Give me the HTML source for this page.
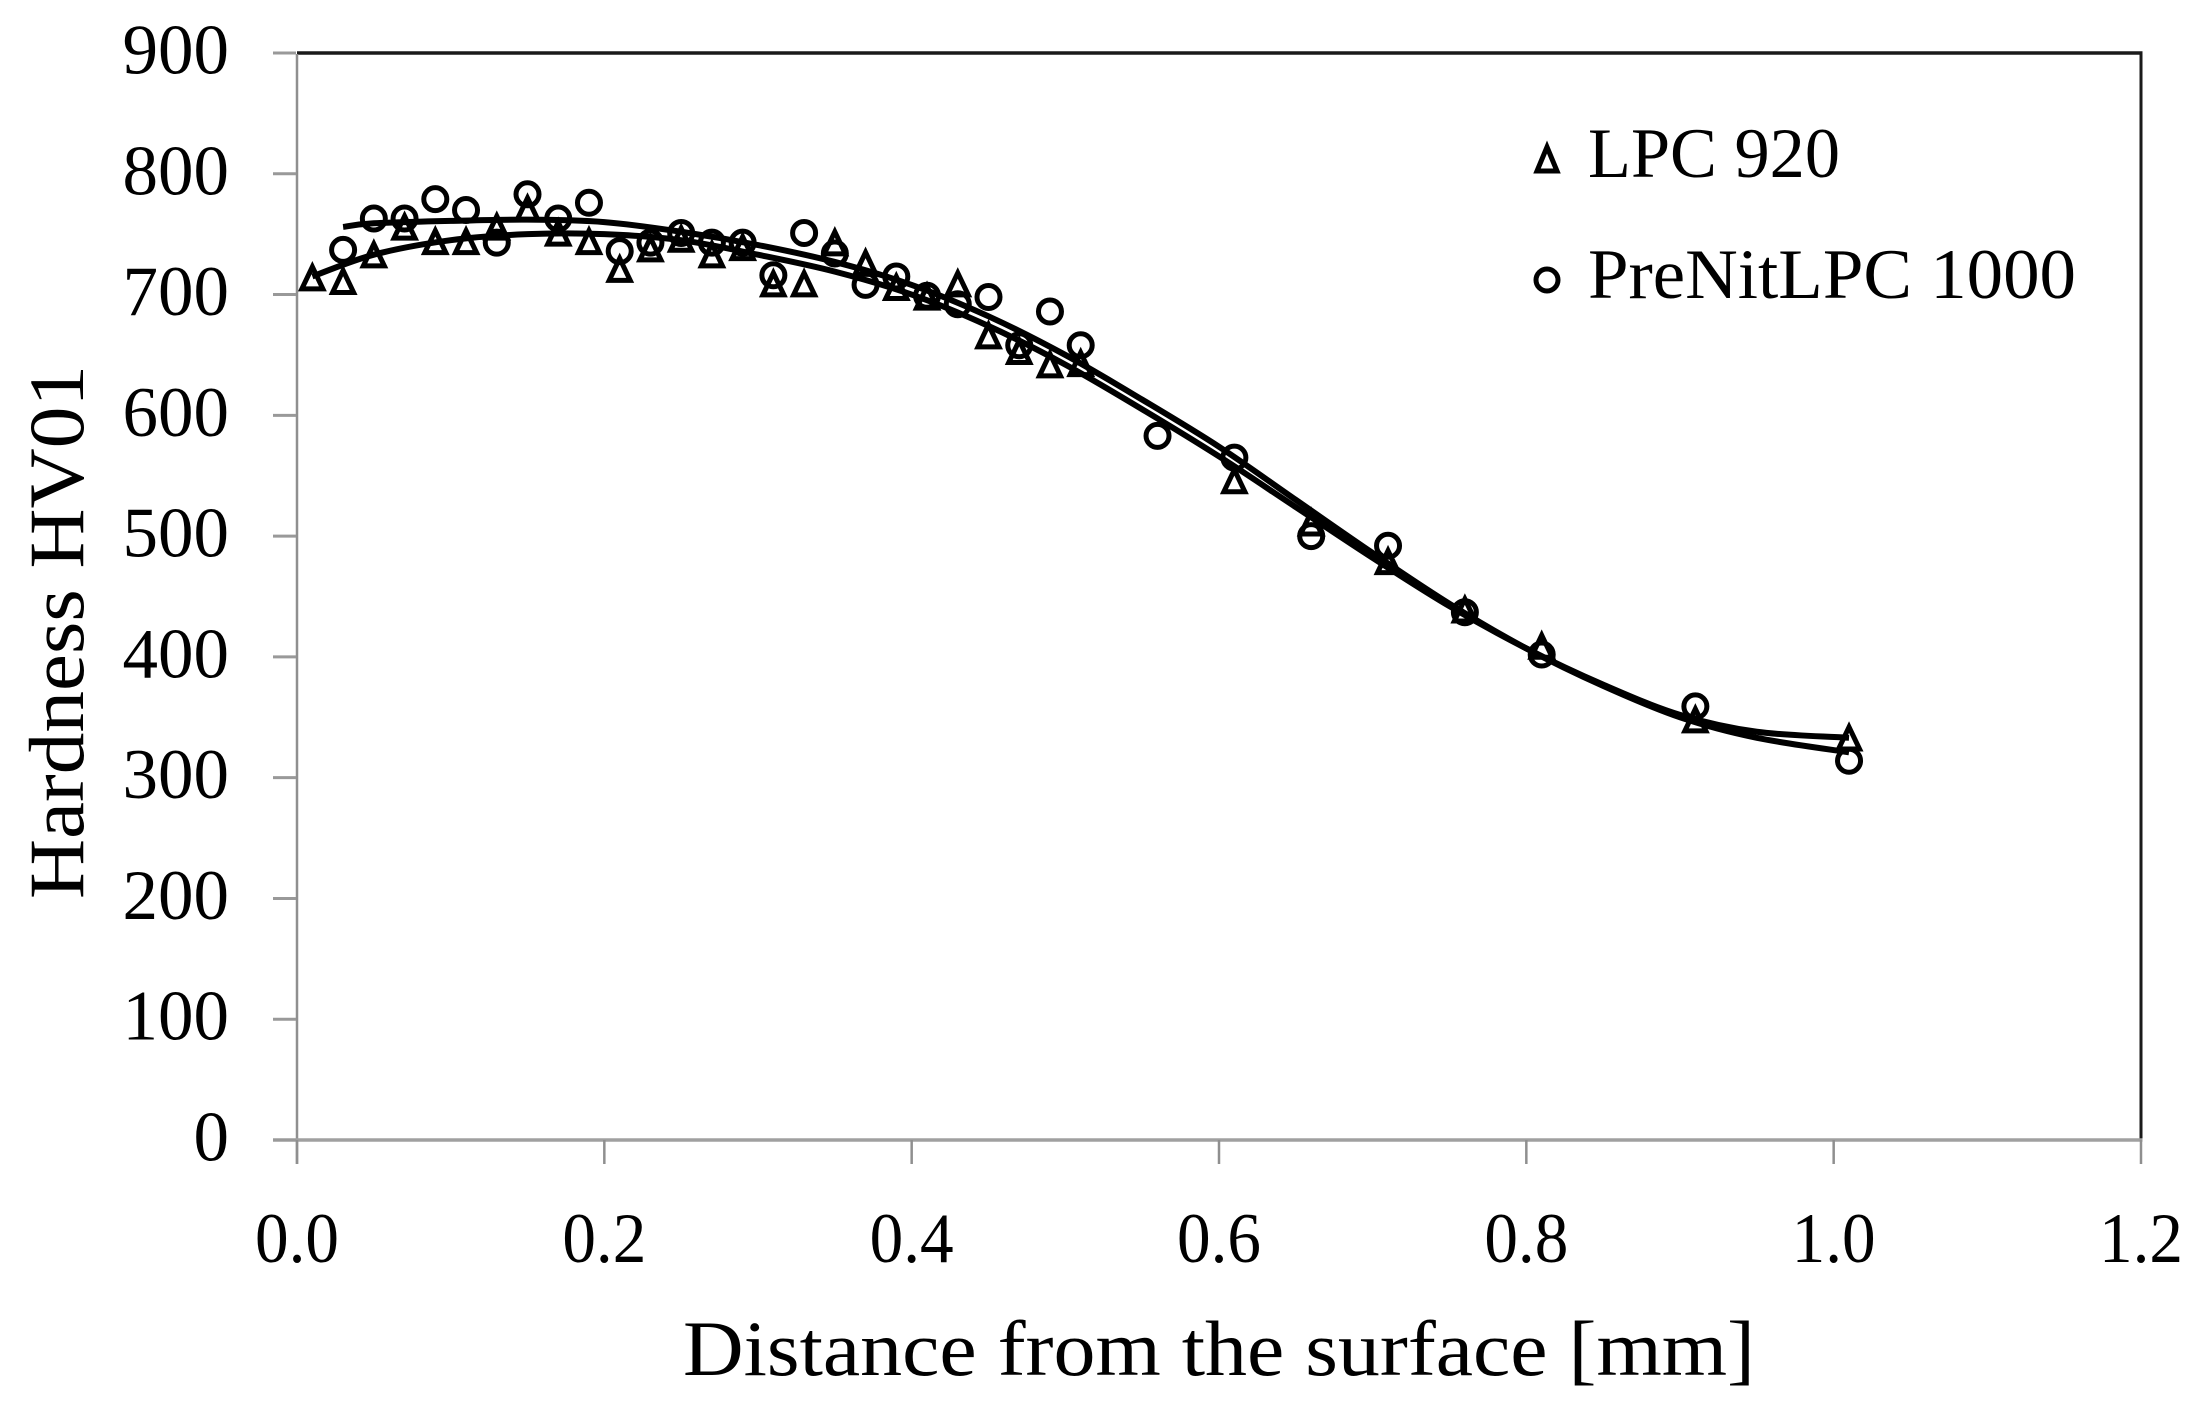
<!DOCTYPE html>
<html lang="en">
<head>
<meta charset="utf-8">
<title>Hardness profile chart</title>
<style>
html,body{margin:0;padding:0;background:#fff;width:2204px;height:1411px;overflow:hidden}
svg{display:block}
text{font-family:"Liberation Serif",serif;fill:#000}
</style>
</head>
<body>
<svg id="chart" width="2204" height="1411" viewBox="0 0 2204 1411" xmlns="http://www.w3.org/2000/svg">
<rect x="0" y="0" width="2204" height="1411" fill="#fff"/>
<g id="axes"></g>
<g id="fits"></g>
<g id="marks"></g>
<text x="83" y="899" transform="rotate(-90 83 899)" font-size="78" textLength="534" lengthAdjust="spacingAndGlyphs">Hardness HV01</text>
<text x="683" y="1375" font-size="78" textLength="1072" lengthAdjust="spacingAndGlyphs">Distance from the surface [mm]</text>
<g>
<polygon points="1547,147 1557,171 1537,171" fill="none" stroke="#000" stroke-width="5"/>
<circle cx="1547" cy="280" r="11" fill="none" stroke="#000" stroke-width="5"/>
<text x="1588" y="177" font-size="71" textLength="252" lengthAdjust="spacingAndGlyphs">LPC 920</text>
<text x="1588" y="298" font-size="71" textLength="488" lengthAdjust="spacingAndGlyphs">PreNitLPC 1000</text>
</g>
</svg>
<script>
var xTicks = ["0.0","0.2","0.4","0.6","0.8","1.0","1.2"];
var yTicks = ["0","100","200","300","400","500","600","700","800","900"];

var triangleX = [0.01,0.03,0.05,0.07,0.09,0.11,0.13,0.15,0.17,0.19,0.21,0.23,0.25,0.27,0.29,0.31,0.33,0.35,0.37,0.39,0.41,0.43,0.45,0.47,0.49,0.51,0.61,0.66,0.71,0.76,0.81,0.91,1.01];
var triangleY = [713,710,732,755,743,743,755,770,750,743,720,737,745,732,738,708,708,742,725,705,697,708,665,652,641,642,545,510,478,438,408,347,332];

var circleX = [0.03,0.05,0.07,0.09,0.11,0.13,0.15,0.17,0.19,0.21,0.23,0.25,0.27,0.29,0.31,0.33,0.35,0.37,0.39,0.41,0.43,0.45,0.47,0.49,0.51,0.56,0.61,0.66,0.71,0.76,0.81,0.91,1.01];
var circleY = [737,763,763,779,770,743,783,763,776,736,743,751,743,743,716,751,734,708,715,699,692,698,658,686,658,583,565,500,492,437,402,359,314];

var triangleFitX = [0.01,0.05,0.10,0.15,0.20,0.25,0.30,0.35,0.40,0.45,0.50,0.55,0.60,0.65,0.70,0.75,0.80,0.85,0.90,0.95,1.01];
var triangleFitY = [715,733,745,750,750,745,733,719,700,674,642,605,566,524,482,442,407,377,352,338,333];

var circleFitX = [0.03,0.05,0.10,0.15,0.20,0.25,0.30,0.35,0.40,0.45,0.50,0.55,0.60,0.65,0.70,0.75,0.80,0.85,0.90,0.95,1.01];
var circleFitY = [756,759,761,762,760,752,741,727,708,682,650,613,574,530,486,444,407,376,350,333,321];

var SVGNS = "http://www.w3.org/2000/svg";
function xPos(v){ return 297 + (v / 1.2) * 1844; }
function yPos(v){ return 1140 - (v / 900) * 1087; }
function make(tag, attrs, parent){
  var el = document.createElementNS(SVGNS, tag);
  for (var k in attrs) { el.setAttribute(k, attrs[k]); }
  parent.appendChild(el);
  return el;
}

var axes = document.getElementById("axes");
var fits = document.getElementById("fits");
var marks = document.getElementById("marks");

/* frame */
var topLine = make("line", {x1:297, y1:yPos(900), x2:xPos(1.2)+1.5, y2:yPos(900), stroke:"#1a1a1a", "stroke-width":3.5}, axes);


var rightLine = make("line", {x1:xPos(1.2), y1:yPos(900), x2:xPos(1.2), y2:yPos(0), stroke:"#1a1a1a", "stroke-width":3}, axes);


var leftLine = make("line", {x1:297, y1:yPos(900)+1, x2:297, y2:yPos(0)+24, stroke:"#8f8f8f", "stroke-width":2.5}, axes);


var bottomLine = make("line", {x1:273, y1:yPos(0), x2:xPos(1.2)+1.5, y2:yPos(0), stroke:"#a0a0a0", "stroke-width":3.5}, axes);



/* y ticks */
yTicks.forEach(function(label){
  var v = parseFloat(label);
  var y = yPos(v);
  var t = make("line", {x1:273, y1:y, x2:296, y2:y, stroke:"#999", "stroke-width":3}, axes);
  
  
  var txt = make("text", {x:229, y:y+20.5, "font-size":71, "text-anchor":"end"}, axes);
  txt.textContent = label;
  
  
});

/* x ticks */
xTicks.forEach(function(label){
  var v = parseFloat(label);
  var x = xPos(v);
  var t = make("line", {x1:x, y1:yPos(0), x2:x, y2:yPos(0)+24, stroke:"#8f8f8f", "stroke-width":2.5}, axes);
  
  
  var txt = make("text", {x:x, y:1262, "font-size":71, "text-anchor":"middle", textLength:84, lengthAdjust:"spacingAndGlyphs"}, axes);
  txt.textContent = label;
  
  
});

/* smooth path through the read curve points (Catmull-Rom) */
function curvePath(xs, ys){
  var p = xs.map(function(v, i){ return [xPos(v), yPos(ys[i])]; });
  var d = "M" + p[0][0] + " " + p[0][1];
  for (var i = 0; i < p.length - 1; i++) {
    var a = p[Math.max(i - 1, 0)], b = p[i], c = p[i + 1], e = p[Math.min(i + 2, p.length - 1)];
    d += " C" + (b[0] + (c[0] - a[0]) / 6) + " " + (b[1] + (c[1] - a[1]) / 6) + " " +
         (c[0] - (e[0] - b[0]) / 6) + " " + (c[1] - (e[1] - b[1]) / 6) + " " + c[0] + " " + c[1];
  }
  return d;
}

var fitA = make("path", {d:curvePath(triangleFitX, triangleFitY), fill:"none", stroke:"#000", "stroke-width":6}, fits);


var fitB = make("path", {d:curvePath(circleFitX, circleFitY), fill:"none", stroke:"#000", "stroke-width":6}, fits);



/* triangle points */
triangleX.forEach(function(v, i){
  var cx = xPos(v), cy = yPos(triangleY[i]);
  var pts = cx + "," + (cy - 12) + " " + (cx + 10.5) + "," + (cy + 10) + " " + (cx - 10.5) + "," + (cy + 10);
  var m = make("polygon", {points:pts, fill:"none", stroke:"#000", "stroke-width":5}, marks);
  
  
});

/* circle points */
circleX.forEach(function(v, i){
  var m = make("circle", {cx:xPos(v), cy:yPos(circleY[i]), r:11.5, fill:"none", stroke:"#000", "stroke-width":5}, marks);
  
  
});
</script>
</body>
</html>
